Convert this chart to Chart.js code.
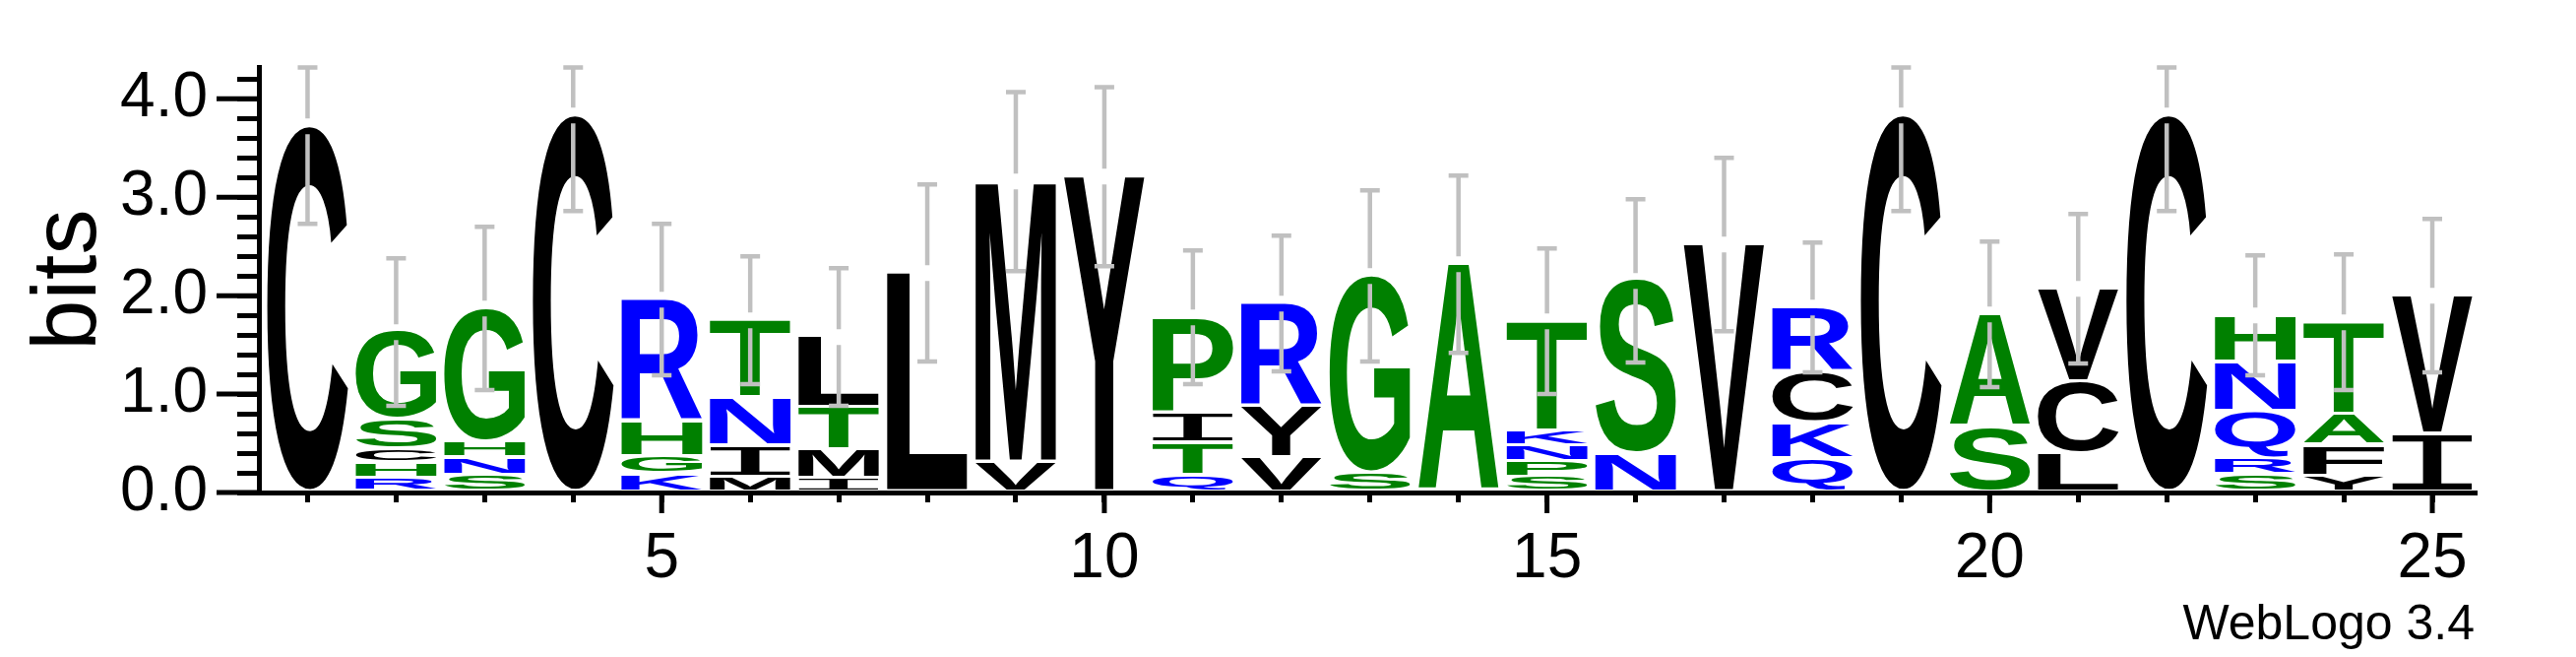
<!DOCTYPE html>
<html>
<head>
<meta charset="utf-8">
<title>WebLogo</title>
<script src="https://cdn.jsdelivr.net/npm/chart.js"></script>
<style>
  body { margin: 0; background: #fff; }
  #wrap { width: 2617px; height: 667px; }
</style>
</head>
<body>
<div id="wrap"><canvas id="logoChart" width="2617" height="667"></canvas></div>
<script>
// sequence positions
const positions = [1, 2, 3, 4, 5, 6, 7, 8, 9, 10, 11, 12, 13, 14, 15, 16, 17, 18, 19, 20, 21, 22, 23, 24, 25];

// letters of each stack, bottom to top
const stackLetters = [
    ['C'],
    ['R', 'H', 'C', 'S', 'G'],
    ['S', 'N', 'H', 'G'],
    ['C'],
    ['K', 'G', 'H', 'R'],
    ['M', 'I', 'N', 'T'],
    ['I', 'M', 'T', 'L'],
    ['L'],
    ['V', 'M'],
    ['Y'],
    ['Q', 'T', 'I', 'P'],
    ['V', 'Y', 'R'],
    ['S', 'G'],
    ['A'],
    ['S', 'P', 'N', 'K', 'T'],
    ['N', 'S'],
    ['V'],
    ['Q', 'K', 'C', 'R'],
    ['C'],
    ['S', 'A'],
    ['L', 'C', 'V'],
    ['C'],
    ['S', 'R', 'Q', 'N', 'H'],
    ['Y', 'F', 'A', 'T'],
    ['I', 'V']
];

// height of each letter in bits, same order
const stackHeights = [
    [3.72],
    [0.14, 0.15, 0.14, 0.30, 0.90],
    [0.17, 0.18, 0.16, 1.36],
    [3.83],
    [0.18, 0.18, 0.35, 1.25],
    [0.15, 0.32, 0.49, 0.79],
    [0.14, 0.29, 0.43, 0.72],
    [2.23],
    [0.30, 2.86],
    [3.21],
    [0.17, 0.33, 0.31, 0.97],
    [0.35, 0.52, 1.05],
    [0.19, 2.01],
    [2.32],
    [0.15, 0.16, 0.16, 0.15, 1.12],
    [0.38, 1.77],
    [2.52],
    [0.34, 0.36, 0.52, 0.66],
    [3.83],
    [0.66, 1.15],
    [0.39, 0.73, 0.95],
    [3.83],
    [0.17, 0.16, 0.49, 0.50, 0.48],
    [0.16, 0.31, 0.32, 0.94],
    [0.59, 1.41]
];

// error bar half width (bits)
const stackErrors = [0.99, 0.75, 0.83, 0.97, 0.77, 0.65, 0.70, 0.90, 0.91, 0.91, 0.68, 0.69, 0.87,
    0.90, 0.74, 0.83, 0.88, 0.66, 0.97, 0.74, 0.76, 0.97, 0.61, 0.69, 0.78];

const xLabeled = [5, 10, 15, 20, 25];
const yLabeled = [0, 1, 2, 3, 4];
const maxBits = 4.32;

const letterColors = {
    C: '#000000', I: '#000000', M: '#000000', L: '#000000', Y: '#000000', V: '#000000', F: '#000000',
    G: '#008000', S: '#008000', H: '#008000', T: '#008000', P: '#008000', A: '#008000',
    R: '#0000ff', K: '#0000ff', N: '#0000ff', Q: '#0000ff'
};

const FONT = '"Liberation Sans", Arial, Helvetica, sans-serif';
Chart.defaults.font.family = FONT;
Chart.defaults.color = '#000';

const totals = stackHeights.map(h => h.reduce((a, b) => a + b, 0));

function drawGlyph(ctx, ch, x0, yTop, w, h) {
    if (h < 1) return;
    ctx.save();
    // the logo's I has serifs, so take it from a mono face
    ctx.font = ch === 'I' ? '200px "Liberation Mono"' : 'bold 200px ' + FONT;
    ctx.textAlign = 'left';
    ctx.textBaseline = 'alphabetic';
    const m = ctx.measureText(ch);
    const gw = m.actualBoundingBoxLeft + m.actualBoundingBoxRight;
    const gh = m.actualBoundingBoxAscent + m.actualBoundingBoxDescent;
    ctx.translate(x0, yTop);
    ctx.scale(w / gw, h / gh);
    ctx.fillStyle = letterColors[ch];
    ctx.fillText(ch, m.actualBoundingBoxLeft, m.actualBoundingBoxAscent);
    ctx.restore();
}

const logoPlugin = {
    id: 'logo',
    afterDatasetsDraw(chart) {
        const ctx = chart.ctx;
        const x = chart.scales.x, y = chart.scales.y;
        const step = x.getPixelForValue(2) - x.getPixelForValue(1);
        const w = step * 0.912;

        // letters
        positions.forEach((pos, i) => {
            const cx = x.getPixelForValue(pos);
            let base = 0;
            stackLetters[i].forEach((ch, j) => {
                const hgt = stackHeights[i][j];
                const yb = y.getPixelForValue(base) - 3.5;
                const yt = y.getPixelForValue(base + hgt);
                drawGlyph(ctx, ch, cx - w / 2, yt, w, yb - yt);
                base += hgt;
            });
        });

        // error bars
        ctx.save();
        ctx.strokeStyle = '#c0c0c0';
        ctx.lineWidth = 4.5;
        positions.forEach((pos, i) => {
            const cx = x.getPixelForValue(pos);
            const top = totals[i];
            const yHi = y.getPixelForValue(Math.min(top + stackErrors[i], maxBits));
            const yLo = y.getPixelForValue(top - stackErrors[i]);
            const yMid = y.getPixelForValue(top);
            ctx.beginPath();
            ctx.moveTo(cx, yHi); ctx.lineTo(cx, yMid - 8);
            ctx.moveTo(cx, yMid + 8); ctx.lineTo(cx, yLo);
            ctx.moveTo(cx - 10, yHi); ctx.lineTo(cx + 10, yHi);
            ctx.moveTo(cx - 10, yLo); ctx.lineTo(cx + 10, yLo);
            ctx.stroke();
        });
        ctx.restore();
    },
    afterDraw(chart) {
        const ctx = chart.ctx;
        const x = chart.scales.x, y = chart.scales.y;
        const area = chart.chartArea;
        // longer ticks for labelled values
        ctx.save();
        ctx.strokeStyle = '#000';
        ctx.lineWidth = 5;
        ctx.beginPath();
        yLabeled.forEach(v => {
            const py = y.getPixelForValue(v);
            ctx.moveTo(area.left - 43, py); ctx.lineTo(area.left, py);
        });
        xLabeled.forEach(v => {
            const px = x.getPixelForValue(v);
            ctx.moveTo(px, area.bottom); ctx.lineTo(px, area.bottom + 21);
        });
        ctx.stroke();
        ctx.fillStyle = '#000';
        ctx.font = '50px ' + FONT;
        ctx.textAlign = 'right';
        ctx.textBaseline = 'alphabetic';
        ctx.fillText('WebLogo 3.4', 2514, 649);
        ctx.restore();
    }
};

new Chart(document.getElementById('logoChart'), {
    type: 'scatter',
    data: {
        datasets: [{
            label: 'stack height',
            data: positions.map((p, i) => ({ x: p, y: totals[i] })),
            pointRadius: 0,
            showLine: false
        }]
    },
    options: {
        responsive: false,
        animation: false,
        devicePixelRatio: 1,
        layout: { padding: { top: 50, right: 101, bottom: 0, left: 0 } },
        plugins: {
            legend: { display: false },
            tooltip: { enabled: false }
        },
        scales: {
            x: {
                type: 'linear',
                min: 0.45,
                max: 25.5,
                afterBuildTicks: axis => { axis.ticks = positions.map(p => ({ value: p })); },
                afterFit: axis => { axis.height = 167; },
                ticks: {
                    autoSkip: false,
                    maxRotation: 0,
                    padding: 20,
                    font: { size: 64 },
                    color: '#000',
                    callback: v => xLabeled.includes(v) ? String(v) : ''
                },
                grid: { drawOnChartArea: false, drawTicks: true, tickLength: 10, tickWidth: 5, tickColor: '#000' },
                border: { display: true, color: '#000', width: 5 }
            },
            y: {
                type: 'linear',
                min: 0,
                max: maxBits,
                afterBuildTicks: axis => {
                    const t = [];
                    for (let k = 0; k <= 21; k++) t.push({ value: Math.round(k * 2) / 10 });
                    axis.ticks = t;
                },
                afterFit: axis => { axis.width = 263; },
                ticks: {
                    autoSkip: false,
                    padding: 30,
                    font: { size: 64 },
                    color: '#000',
                    callback: v => {
                        const r = Math.round(v * 10) / 10;
                        return yLabeled.includes(r) ? r.toFixed(1) : '';
                    }
                },
                grid: { drawOnChartArea: false, drawTicks: true, tickLength: 22, tickWidth: 5, tickColor: '#000' },
                border: { display: true, color: '#000', width: 5 },
                title: { display: true, text: 'bits', font: { size: 92 }, color: '#000', padding: { top: 16, bottom: 0 } }
            }
        }
    },
    plugins: [logoPlugin]
});
</script>
</body>
</html>
